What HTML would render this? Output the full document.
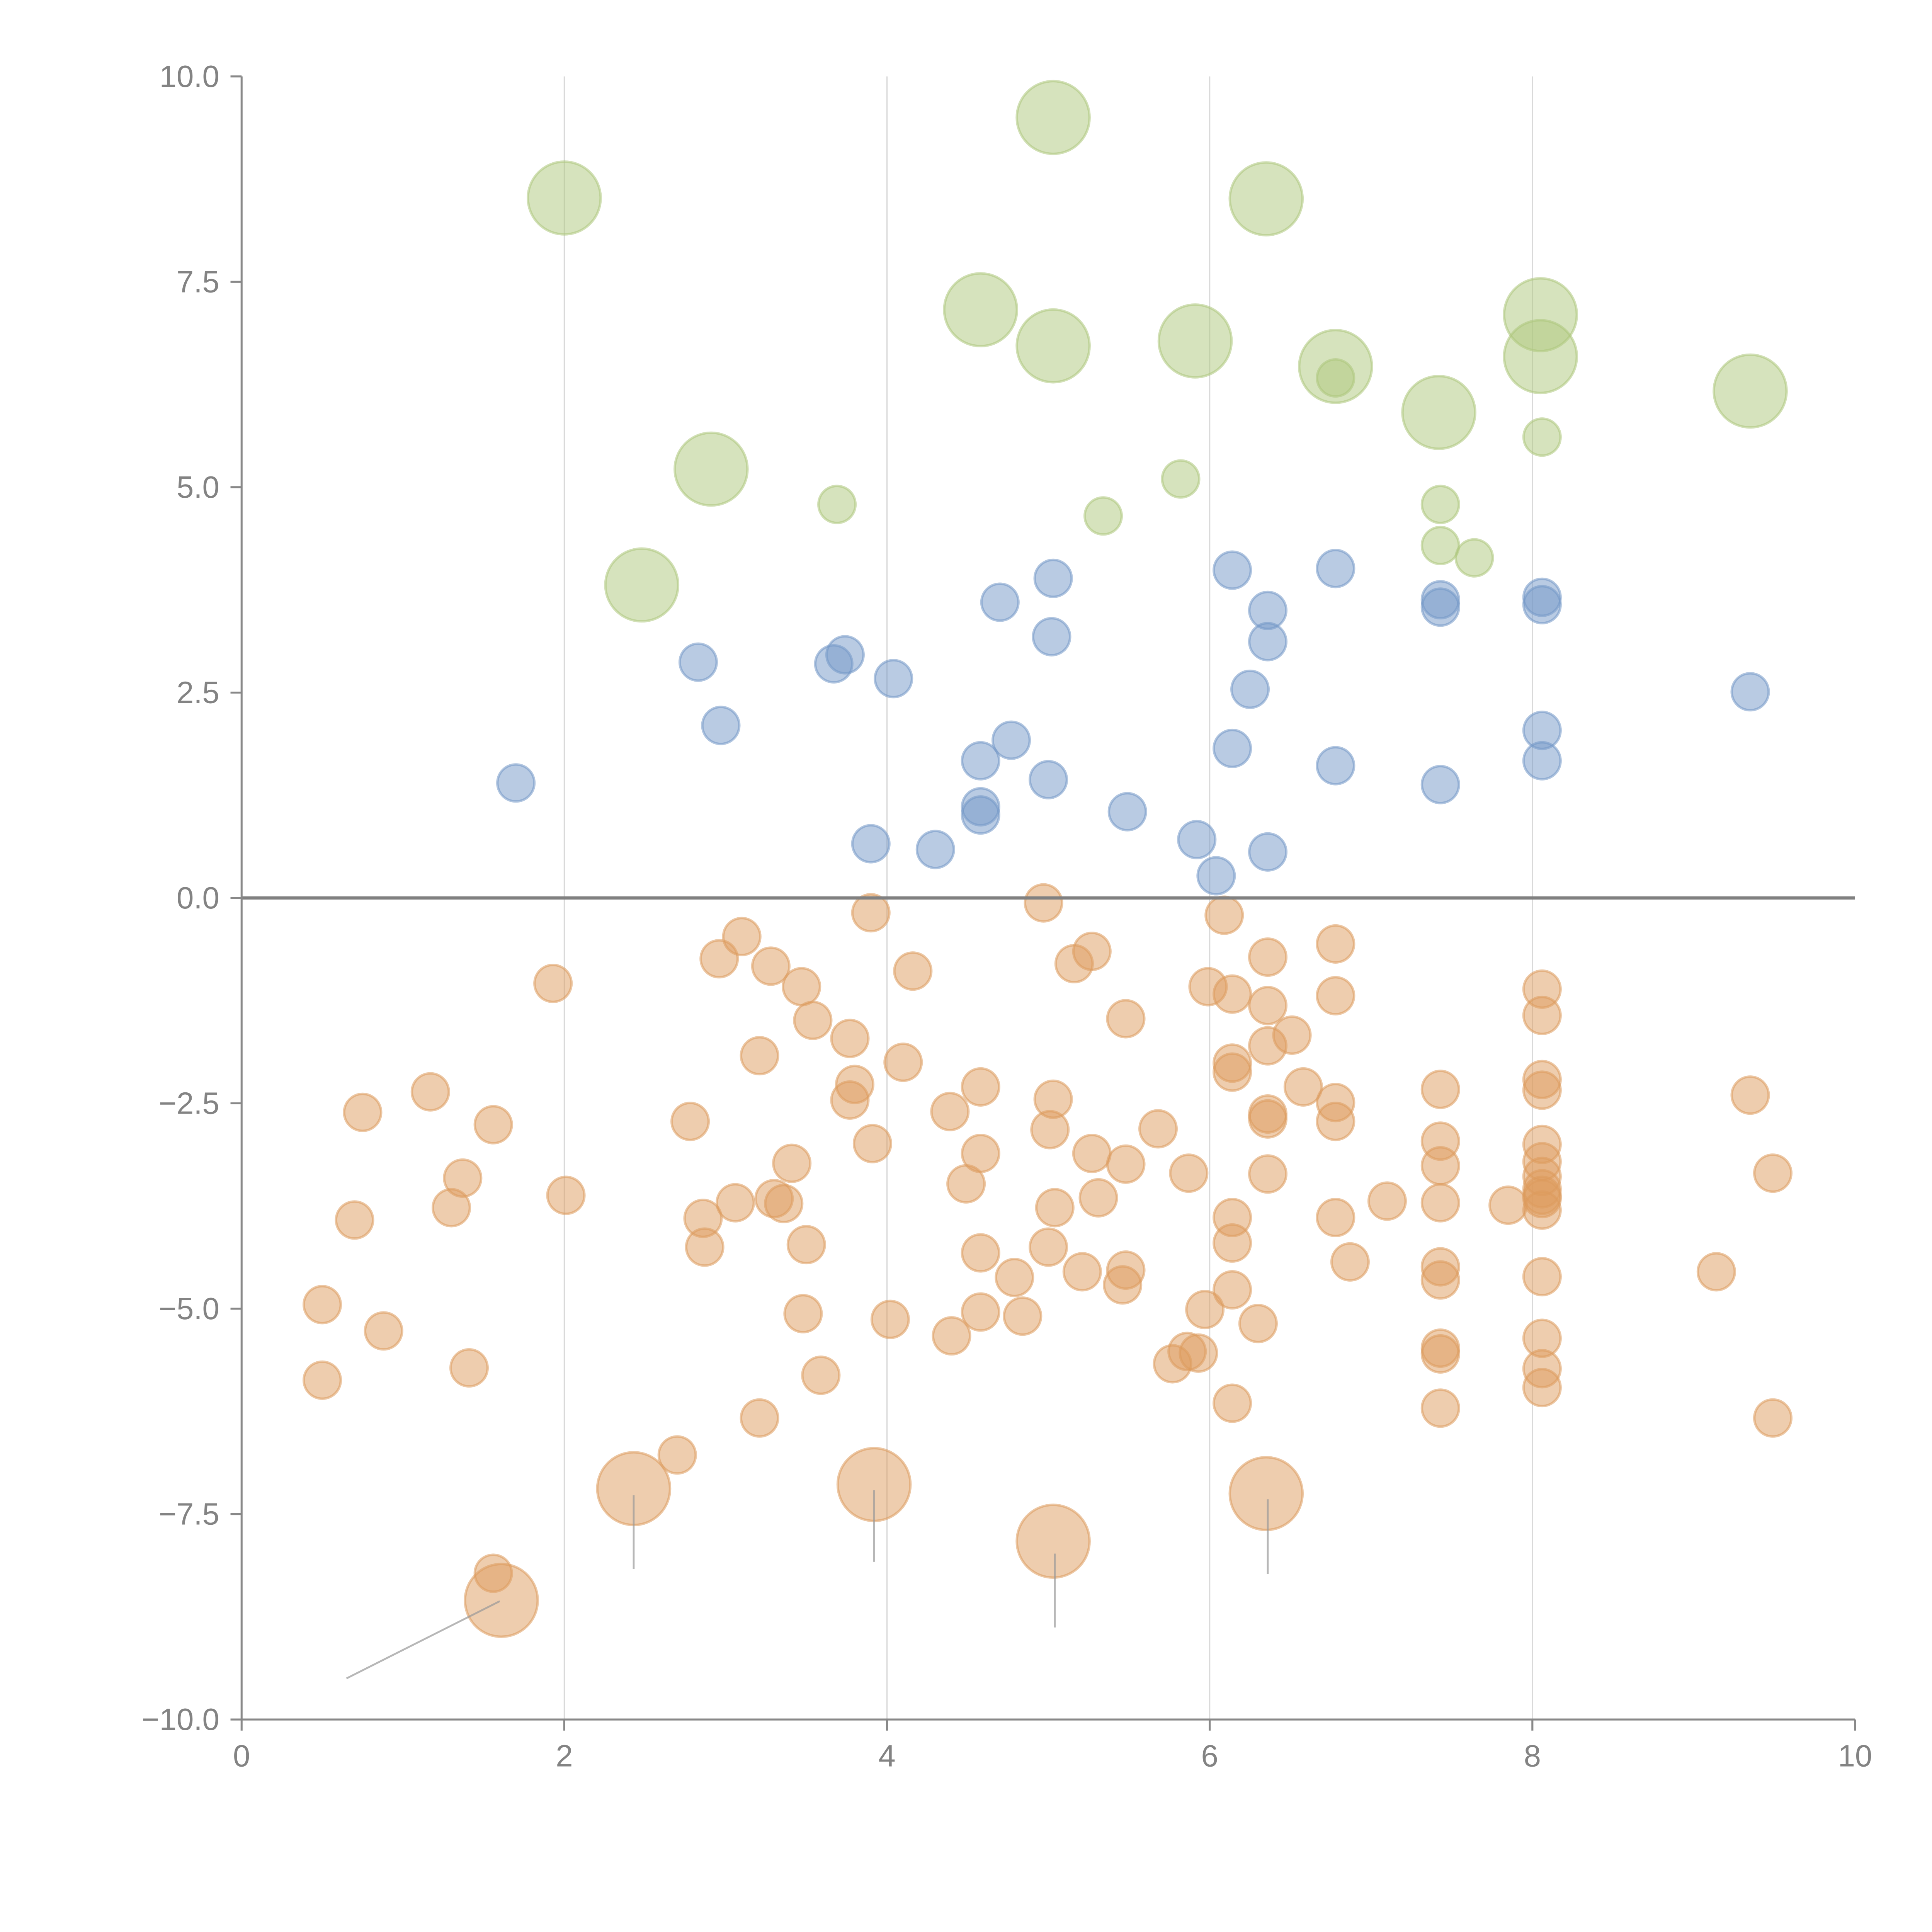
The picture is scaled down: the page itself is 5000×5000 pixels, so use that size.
<!DOCTYPE html>
<html><head><meta charset="utf-8"><style>html,body{margin:0;padding:0;background:#fff}svg{display:block}</style></head>
<body>
<svg id="chart" xmlns="http://www.w3.org/2000/svg" width="5000" height="5000" viewBox="0 0 1567.4 1567.4" font-family="Liberation Sans, sans-serif">
<g id="grid"></g>
<g id="marks"></g>
<g id="axes"></g>
</svg>
<script>
const xTicks = [0, 2, 4, 6, 8, 10];
const xTickLabels = ["0", "2", "4", "6", "8", "10"];
const yTicks = [-10, -7.5, -5, -2.5, 0, 2.5, 5, 7.5, 10];
const yTickLabels = ["\u221210.0", "\u22127.5", "\u22125.0", "\u22122.5", "0.0", "2.5", "5.0", "7.5", "10.0"];

const greenX = [2.00,5.03,6.35,4.58,5.03,5.91,6.78,7.42,8.05,8.05,9.35,2.91,2.48,3.69,5.82,5.34,7.43,7.43,7.64,8.06,6.78];
const greenY = [8.52,9.50,8.51,7.16,6.72,6.78,6.47,5.91,7.10,6.59,6.17,5.22,3.81,4.79,5.10,4.65,4.79,4.29,4.14,5.61,6.33];
const greenS = [4,4,4,4,4,4,4,4,4,4,4,4,4,1,1,1,1,1,1,1,1];

const blueX = [1.70,2.83,2.97,3.67,3.74,3.90,4.04,4.30,4.58,4.58,4.58,4.70,4.77,5.00,5.03,5.02,5.49,5.92,6.04,6.14,6.14,6.25,6.36,6.36,6.36,6.78,6.78,7.43,7.43,7.43,8.06,8.06,8.06,8.06,9.35];
const blueY = [1.40,2.87,2.10,2.85,2.96,0.66,2.67,0.59,1.67,1.11,1.01,3.60,1.92,1.44,3.89,3.18,1.05,0.71,0.27,3.99,1.82,2.54,3.50,3.12,0.56,4.01,1.61,3.63,3.54,1.38,3.66,3.57,2.04,1.67,2.51];
const blueS = blueX.map(() => 1);

const orangeX = [0.50,0.50,0.70,0.75,0.88,1.17,1.30,1.37,1.41,1.56,1.93,2.01,2.78,2.86,2.87,2.96,3.06,3.10,3.21,3.21,3.28,3.30,3.36,3.41,3.47,3.48,3.50,3.54,3.59,3.77,3.80,3.77,3.90,3.91,4.02,4.10,4.16,4.39,4.40,4.49,4.58,4.58,4.58,4.58,4.79,4.84,4.97,5.01,5.03,5.04,5.00,5.16,5.27,5.27,5.31,5.21,5.48,5.48,5.48,5.46,5.68,5.87,5.97,5.77,5.86,5.93,5.99,6.09,6.14,6.14,6.14,6.14,6.14,6.14,6.14,6.30,6.36,6.36,6.36,6.36,6.36,6.36,6.51,6.58,6.78,6.78,6.78,6.78,6.78,6.87,7.10,7.43,7.43,7.43,7.43,7.43,7.43,7.43,7.43,7.43,7.85,8.06,8.06,8.06,8.06,8.06,8.06,8.06,8.06,8.06,8.06,8.06,8.06,8.06,8.06,8.06,9.14,9.35,9.49,9.49,2.70,1.56,1.61,2.43,3.92,5.03,6.35];
const orangeY = [-4.95,-5.87,-3.92,-2.61,-5.27,-2.36,-3.77,-3.41,-5.72,-2.76,-1.04,-3.62,-2.72,-3.90,-4.25,-0.74,-3.71,-0.47,-1.92,-6.33,-0.83,-3.66,-3.72,-3.23,-1.08,-5.06,-4.22,-1.49,-5.81,-1.71,-2.27,-2.46,-0.18,-2.99,-5.13,-2.00,-0.89,-2.60,-5.33,-3.48,-2.30,-3.11,-4.32,-5.04,-4.62,-5.09,-0.06,-2.82,-2.45,-3.77,-4.25,-0.80,-0.65,-3.11,-3.65,-4.55,-1.47,-3.24,-4.53,-4.71,-2.81,-3.35,-5.01,-5.67,-5.52,-5.54,-1.08,-0.21,-1.17,-2.01,-2.12,-3.89,-4.20,-4.77,-6.15,-5.18,-0.72,-1.31,-1.80,-2.63,-2.69,-3.36,-1.67,-2.30,-0.56,-1.19,-2.49,-2.72,-3.89,-4.43,-3.69,-2.33,-2.96,-3.26,-3.71,-4.49,-4.65,-5.48,-5.55,-6.21,-3.74,-1.11,-1.43,-2.21,-2.34,-3.00,-3.21,-3.39,-3.54,-3.62,-3.66,-3.80,-4.61,-5.36,-5.73,-5.96,-4.55,-2.40,-3.35,-6.33,-6.78,-8.22,-8.55,-7.19,-7.14,-7.83,-7.25];
const orangeS = orangeX.map((v, i) => i >= orangeX.length - 5 ? 4 : 1);

const annoX1 = [0.65, 2.43, 3.92, 5.04, 6.36];
const annoY1 = [-9.50, -8.17, -8.08, -8.88, -8.23];
const annoX2 = [1.60, 2.43, 3.92, 5.04, 6.36];
const annoY2 = [-8.56, -7.27, -7.21, -7.98, -7.32];

const L = 196, R = 1505, T = 62, B = 1395;
const xs = v => L + (v - 0) / 10 * (R - L);
const ys = v => B - (v + 10) / 20 * (B - T);
const rs = s => s > 2 ? 29.5 : 15;
const NS = "http://www.w3.org/2000/svg";
function mk(tag, attrs, parent) {
  const e = document.createElementNS(NS, tag);
  for (const k in attrs) e.setAttribute(k, attrs[k]);
  parent.appendChild(e);
  return e;
}
const grid = document.getElementById('grid');
const marks = document.getElementById('marks');
const axes = document.getElementById('axes');

[2,4,6,8].forEach(v => {
  const l = mk('line', {x1: xs(v), x2: xs(v), y1: T, y2: B, stroke: '#d9d9d9', 'stroke-width': 1}, grid);
  
  
});

function series(X, Y, S, fill, name) {
  for (let i = 0; i < X.length; i++) {
    const c = mk('circle', {cx: xs(X[i]), cy: ys(Y[i]), r: rs(S[i]), fill: fill, 'fill-opacity': 0.5, stroke: fill, 'stroke-opacity': 0.55, 'stroke-width': 2}, marks);
    
    
  }
}
series(greenX, greenY, greenS, 'rgb(173,199,123)', 'bubble-green');
series(blueX, blueY, blueS, 'rgb(115,151,199)', 'bubble-blue');
series(orangeX, orangeY, orangeS, 'rgb(221,155,93)', 'bubble-orange');

for (let i = 0; i < annoX1.length; i++) {
  const l = mk('line', {x1: xs(annoX1[i]), y1: ys(annoY1[i]), x2: xs(annoX2[i]), y2: ys(annoY2[i]), stroke: '#999', 'stroke-opacity': 0.7, 'stroke-width': 1.5}, marks);
  
  
}

const zl = mk('line', {x1: L, x2: R, y1: ys(0), y2: ys(0), stroke: '#808080', 'stroke-width': 2.6}, axes);


const ya = mk('line', {x1: L, x2: L, y1: T, y2: B, stroke: '#888', 'stroke-width': 1.6}, axes);


const xa = mk('line', {x1: L, x2: R, y1: B, y2: B, stroke: '#888', 'stroke-width': 1.6}, axes);



yTicks.forEach((v, i) => {
  const t = mk('line', {x1: L - 9, x2: L, y1: ys(v), y2: ys(v), stroke: '#888', 'stroke-width': 1.6}, axes);
  
  
  const tx = mk('text', {x: L - 18, y: ys(v) + 8.5, 'text-anchor': 'end', 'font-size': 25, fill: '#838383'}, axes);
  tx.textContent = yTickLabels[i];
  
  
});
xTicks.forEach((v, i) => {
  const t = mk('line', {x1: xs(v), x2: xs(v), y1: B, y2: B + 9, stroke: '#888', 'stroke-width': 1.6}, axes);
  
  
  const tx = mk('text', {x: xs(v), y: B + 38, 'text-anchor': 'middle', 'font-size': 25, fill: '#838383'}, axes);
  tx.textContent = xTickLabels[i];
  
  
});
</script>
</body></html>
